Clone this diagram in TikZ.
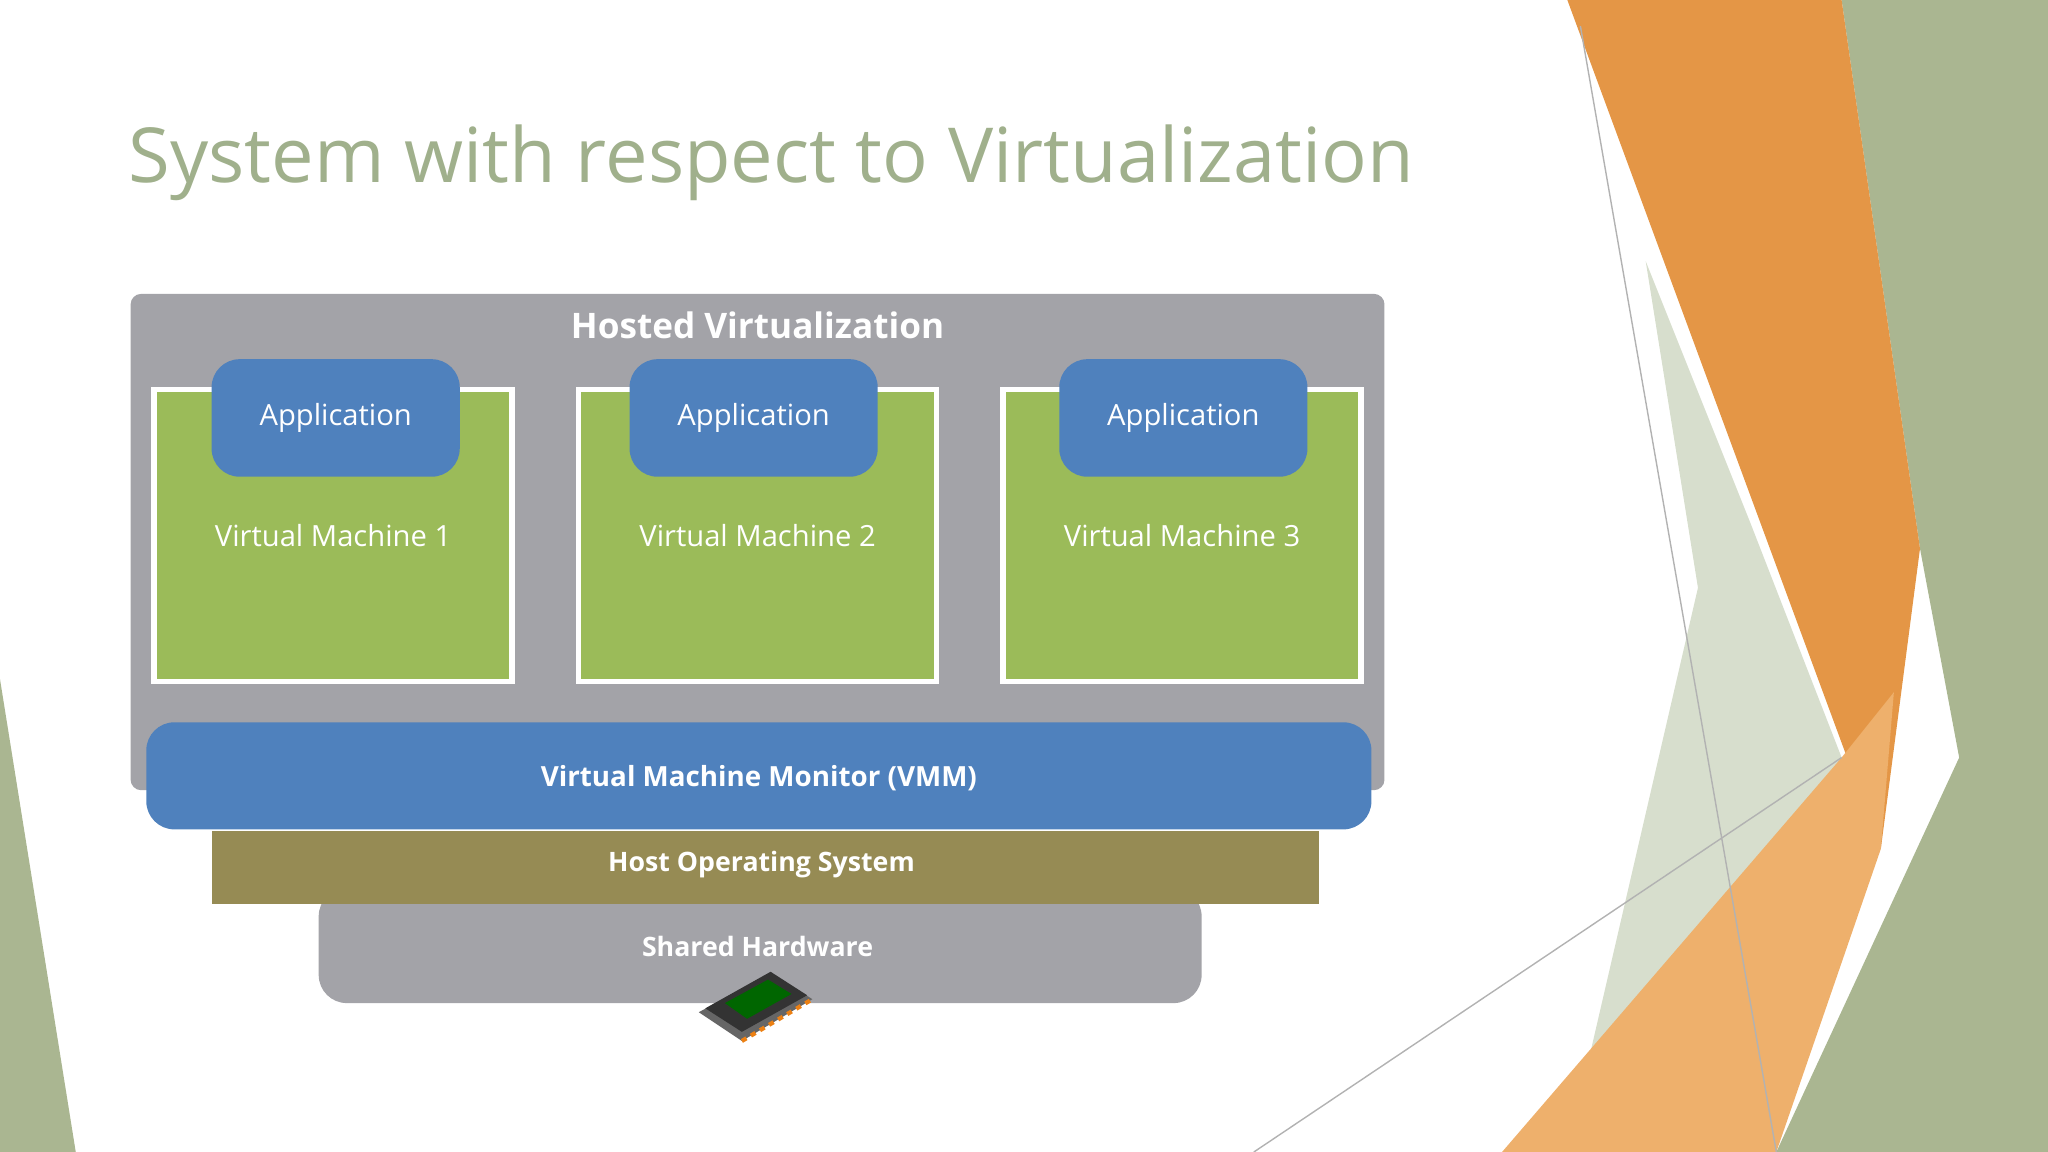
\documentclass[tikz,border=0pt]{standalone}
\usepackage{fontspec}
\setmainfont{Open Sans}
\definecolor{ttl}{RGB}{160,176,140}
\definecolor{panel}{RGB}{163,163,168}
\definecolor{vmg}{RGB}{155,187,89}
\definecolor{appb}{RGB}{79,129,189}
\definecolor{olive}{RGB}{150,139,84}
\definecolor{org}{RGB}{228,150,70}
\definecolor{orgl}{RGB}{238,176,108}
\definecolor{sage}{RGB}{170,182,145}
\definecolor{sagel}{RGB}{215,222,205}
\begin{document}
\begin{tikzpicture}[x=0.013061cm,y=-0.013061cm,
  vmbox/.style={draw=white,line width=1.5pt,fill=vmg},
  app/.style={fill=appb,rounded corners=8pt},
  lbl/.style={text=white,font=\fontsize{8.3}{10}\selectfont},
  blbl/.style={text=white,font=\bfseries\fontsize{7.6}{9}\selectfont}]
\useasboundingbox (0,0) rectangle (1568,882);
% decorations
\fill[sagel] (1260,200) -- (1340,400) -- (1410,580) -- (1230,882) -- (1200,882) -- (1300,450) -- cycle;
\fill[sage] (1410,0) -- (1568,0) -- (1568,882) -- (1360,882) -- (1500,580) -- (1470,420) -- cycle;
\fill[org] (1200,0) -- (1410,0) -- (1470,420) -- (1440,650) -- cycle;
\fill[orgl] (1150,882) -- (1410,580) -- (1450,530) -- (1440,650) -- (1360,882) -- cycle;
\fill[sage] (0,520) -- (0,882) -- (58,882) -- cycle;
\draw[gray!60,line width=0.4pt] (1210,20) -- (1360,882);
\draw[gray!60,line width=0.4pt] (960,882) -- (1410,580);
% title
\node[anchor=base west,text=ttl,font=\fontsize{21.6}{26}\selectfont,inner sep=0] (title) at (98,140) {System with respect to Virtualization};
% panel
\fill[panel,rounded corners=3pt] (100,225) rectangle (1060,605);
\node[blbl,font=\bfseries\fontsize{10}{12}\selectfont] (hv) at (580,249) {Hosted Virtualization};
\foreach \x/\n in {118/1,443/2,768/3}{
  \draw[vmbox] (\x,298) rectangle ++(274,224);
  \node[lbl] (vm\n) at (\x+137,410) {Virtual Machine \n};
}
\foreach \x/\n in {162/1,482/2,811/3}{
  \fill[app] (\x,275) rectangle ++(190,90);
  \node[lbl] (app\n) at (\x+95,320) {Application};
}
% hardware
\fill[panel,rounded corners=8pt] (244,680) rectangle (920,768);
\node[blbl] (hw) at (580,725) {Shared Hardware};
\fill[olive] (162,636) rectangle (1010,692);
\node[blbl] (os) at (583,662) {Host Operating System};
\fill[appb,rounded corners=8pt] (112,553) rectangle (1050,635);
\node[blbl,font=\bfseries\fontsize{7.9}{9}\selectfont] (vmm) at (581,596) {Virtual Machine Monitor (VMM)};
% chip
\fill[black!60] (535,775) -- (590,745) -- (622,765) -- (568,797) -- cycle;
\fill[black!80] (540,772) -- (590,744) -- (618,762) -- (568,790) -- cycle;
\fill[green!40!black] (555,768) -- (588,750) -- (606,761) -- (572,780) -- cycle;
\draw[orange!70!brown,line width=1.2pt,dash pattern=on 1.5pt off 1.5pt] (568,797) -- (622,765);
\end{tikzpicture}
\end{document}
